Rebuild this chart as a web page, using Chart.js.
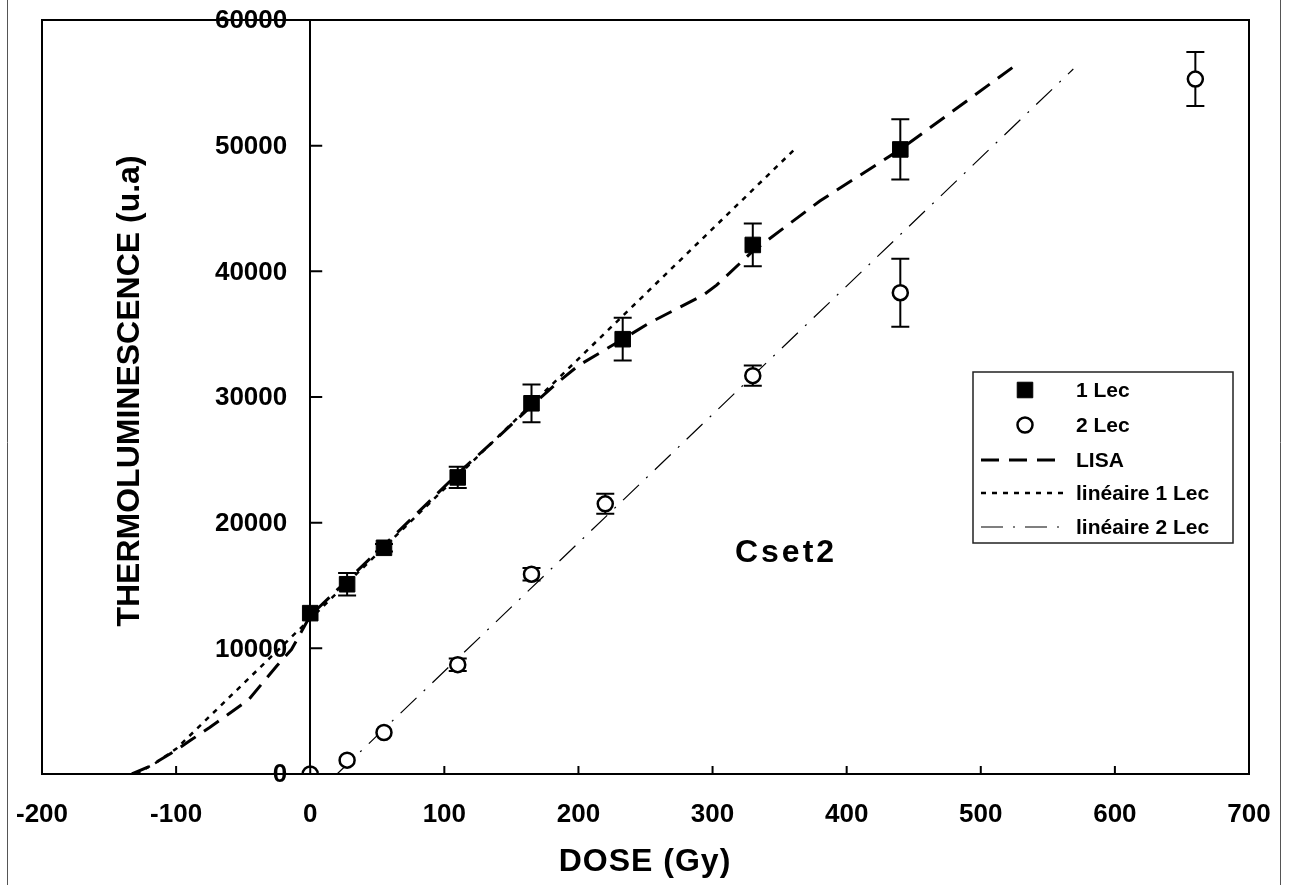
<!DOCTYPE html>
<html>
<head>
<meta charset="utf-8">
<script src="https://cdn.jsdelivr.net/npm/chart.js@4.4.1/dist/chart.umd.min.js"></script>
<style>
  body { margin: 0; background: #fff; }
  #wrap { width: 1289px; height: 885px; }
</style>
</head>
<body>
<div id="wrap"><canvas id="Graph" width="1289" height="885"></canvas></div>
<script>
// measured points, 1 Lec (filled squares)
var dose1 = [0, 27.5, 55, 110, 165, 233, 330, 440];
var tl1 = [12800, 15100, 18000, 23600, 29500, 34600, 42100, 49700];
var err1 = [0, 900, 300, 850, 1500, 1700, 1700, 2400];

// measured points, 2 Lec (open circles)
var dose2 = [0, 27.5, 55, 110, 165, 220, 330, 440, 660];
var tl2 = [0, 1100, 3300, 8700, 15900, 21500, 31700, 38300, 55300];
var err2 = [0, 0, 0, 500, 500, 800, 800, 2700, 2150];

// LISA curve
var lisa_x = [-133, -120, -100, -89, -75, -46, -25, -14, 0, 27.5, 55, 85, 110, 140, 165, 185, 200, 233, 253, 293, 303, 330, 380, 440, 526];
var lisa_y = [0, 600, 1900, 2700, 3700, 5900, 8600, 9900, 12600, 15400, 18200, 21300, 23900, 26800, 29300, 31200, 32500, 34600, 35900, 38100, 38900, 41600, 45600, 49700, 56400];

// linear fits
var lin1_x = [-130, -115, -100, 363];
var lin1_y = [0, 900, 2000, 49900];
var lin2_x = [20, 569];
var lin2_y = [0, 56100];

var x_ticks = [-200, -100, 0, 100, 200, 300, 400, 500, 600, 700];
var y_ticks = [0, 10000, 20000, 30000, 40000, 50000, 60000];

var FONT = "'Liberation Sans', Arial, sans-serif";

function pts(xs, ys) {
    var out = [];
    for (var i = 0; i < xs.length; i++) out.push({x: xs[i], y: ys[i]});
    return out;
}

var errs = {0: err1, 1: err2};

var decor = {
    id: "decor",
    beforeDatasetsDraw: function(chart) {
        var ctx = chart.ctx, sx = chart.scales.x, sy = chart.scales.y;
        ctx.save();
        ctx.strokeStyle = "#000";
        ctx.lineWidth = 2;
        Object.keys(errs).forEach(function(k) {
            var d = chart.data.datasets[k].data, e = errs[k];
            for (var i = 0; i < d.length; i++) {
                if (!e[i]) continue;
                var px = sx.getPixelForValue(d[i].x);
                var top = sy.getPixelForValue(d[i].y + e[i]);
                var bot = sy.getPixelForValue(d[i].y - e[i]);
                ctx.beginPath();
                ctx.moveTo(px, top); ctx.lineTo(px, bot);
                ctx.moveTo(px - 9, top); ctx.lineTo(px + 9, top);
                ctx.moveTo(px - 9, bot); ctx.lineTo(px + 9, bot);
                ctx.stroke();
            }
        });
        ctx.restore();
    },
    afterDraw: function(chart) {
        var ctx = chart.ctx, a = chart.chartArea, sx = chart.scales.x, sy = chart.scales.y;
        ctx.save();
        // page frame lines of the scan
        ctx.strokeStyle = "#555";
        ctx.lineWidth = 1;
        ctx.beginPath();
        ctx.moveTo(7.5, 0); ctx.lineTo(7.5, 885);
        ctx.moveTo(1280.5, 0); ctx.lineTo(1280.5, 885);
        ctx.stroke();

        // plot box
        ctx.strokeStyle = "#000";
        ctx.lineWidth = 2;
        ctx.strokeRect(a.left, a.top, a.right - a.left, a.bottom - a.top);

        // inward tick marks
        var x0 = sx.getPixelForValue(0);
        ctx.beginPath();
        y_ticks.forEach(function(v) {
            if (v <= 0 || v >= 60000) return;
            var py = sy.getPixelForValue(v);
            ctx.moveTo(x0, py); ctx.lineTo(x0 + 12, py);
        });
        x_ticks.forEach(function(v) {
            if (v <= -200 || v >= 700) return;
            var px = sx.getPixelForValue(v);
            ctx.moveTo(px, a.bottom); ctx.lineTo(px, a.bottom - 8);
        });
        ctx.stroke();

        ctx.fillStyle = "#000";
        // y tick labels, left of the axis that crosses at x = 0
        ctx.font = "bold 26px " + FONT;
        ctx.textAlign = "right";
        ctx.textBaseline = "middle";
        y_ticks.forEach(function(v) {
            ctx.fillText(String(v), x0 - 23, sy.getPixelForValue(v) + 1);
        });

        // axis titles
        ctx.textAlign = "center";
        ctx.font = "bold 32px " + FONT;
        ctx.letterSpacing = "1px";
        ctx.fillText("DOSE (Gy)", 645, 862);
        ctx.save();
        ctx.translate(130, 391);
        ctx.rotate(-Math.PI / 2);
        ctx.letterSpacing = "0px";
        ctx.fillText("THERMOLUMINESCENCE (u.a)", 0, 0);
        ctx.restore();

        // sample label
        ctx.font = "bold 32px " + FONT;
        ctx.letterSpacing = "3px";
        ctx.fillText("Cset2", 786, 553);
        ctx.letterSpacing = "0px";

        // legend
        var lx = 973, ly = 372, lw = 260, lh = 171;
        ctx.lineWidth = 1.5;
        ctx.strokeStyle = "#222";
        ctx.strokeRect(lx, ly, lw, lh);
        var rows = [390, 425, 460, 493, 527];
        ctx.textAlign = "left";
        ctx.font = "bold 21px " + FONT;
        chart.data.datasets.forEach(function(ds, i) {
            var ry = rows[i];
            ctx.strokeStyle = "#000";
            if (ds.showLine) {
                ctx.lineWidth = ds.borderWidth;
                ctx.setLineDash(ds.borderDash || []);
                ctx.beginPath();
                ctx.moveTo(981, ry); ctx.lineTo(1064, ry);
                ctx.stroke();
                ctx.setLineDash([]);
            } else {
                ctx.lineWidth = ds.pointBorderWidth;
                ctx.fillStyle = ds.pointBackgroundColor;
                Chart.helpers.drawPoint(ctx, {pointStyle: ds.pointStyle, radius: ds.pointRadius, borderWidth: ds.pointBorderWidth, rotation: 0}, 1025, ry);
            }
            ctx.fillStyle = "#000";
            ctx.fillText(ds.label, 1076, ry + 1);
        });
        ctx.restore();
    }
};

var chart = new Chart("Graph", {
    type: "scatter",
    data: {
        datasets: [{
            label: "1 Lec",
            data: pts(dose1, tl1),
            pointStyle: "rect",
            pointRadius: 11,
            pointBorderWidth: 1,
            pointBackgroundColor: "#000",
            pointBorderColor: "#000",
            showLine: false
        }, {
            label: "2 Lec",
            data: pts(dose2, tl2),
            pointStyle: "circle",
            pointRadius: 7.5,
            pointBorderWidth: 2.5,
            pointBackgroundColor: "#fff",
            pointBorderColor: "#000",
            showLine: false
        }, {
            label: "LISA",
            data: pts(lisa_x, lisa_y),
            showLine: true,
            borderColor: "#000",
            borderWidth: 3,
            borderDash: [18, 10],
            pointRadius: 0,
            tension: 0
        }, {
            label: "linéaire 1 Lec",
            data: pts(lin1_x, lin1_y),
            showLine: true,
            borderColor: "#000",
            borderWidth: 2.5,
            borderDash: [5, 6],
            pointRadius: 0,
            tension: 0
        }, {
            label: "linéaire 2 Lec",
            data: pts(lin2_x, lin2_y),
            showLine: true,
            borderColor: "#000",
            borderWidth: 1.2,
            borderDash: [22, 10, 2, 10],
            pointRadius: 0,
            tension: 0
        }]
    },
    options: {
        responsive: false,
        animation: false,
        events: [],
        layout: {padding: {left: 42, top: 20, right: 40, bottom: 0}},
        plugins: {legend: {display: false}, tooltip: {enabled: false}},
        scales: {
            x: {
                type: "linear",
                position: "bottom",
                min: -200,
                max: 700,
                afterFit: function(s) { s.height = 111; },
                afterBuildTicks: function(s) { s.ticks = x_ticks.map(function(v) { return {value: v}; }); },
                grid: {display: false, drawTicks: true, tickLength: 25},
                border: {display: true, color: "#000", width: 2},
                ticks: {
                    padding: 0,
                    color: "#000",
                    font: {family: FONT, size: 26, weight: "bold"},
                    callback: function(v) { return String(v); }
                }
            },
            y: {
                type: "linear",
                axis: "y",
                position: {x: 0},
                min: 0,
                max: 60000,
                afterBuildTicks: function(s) { s.ticks = y_ticks.map(function(v) { return {value: v}; }); },
                grid: {display: false, drawTicks: false},
                border: {display: true, color: "#000", width: 2},
                ticks: {display: false}
            }
        }
    },
    plugins: [decor]
});
</script>
</body>
</html>
